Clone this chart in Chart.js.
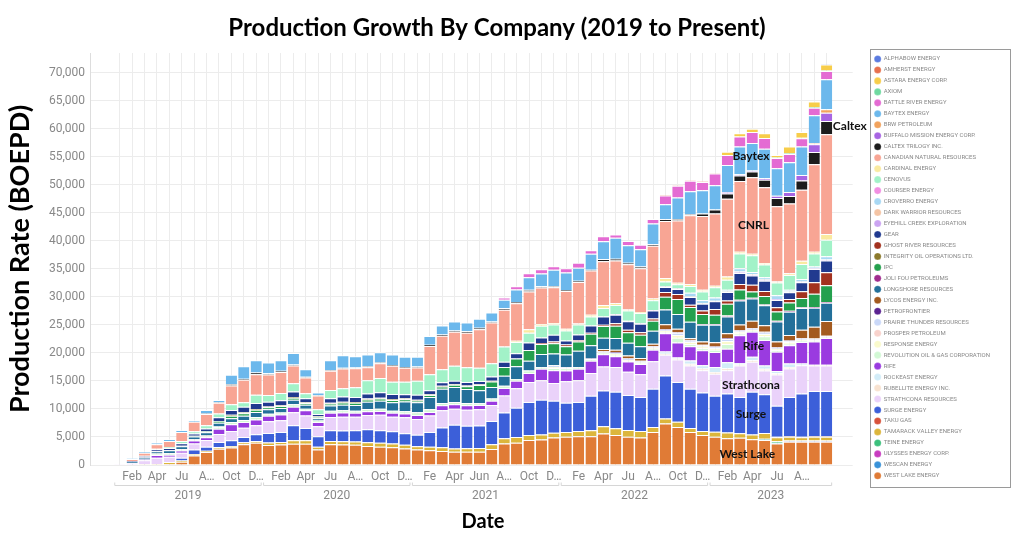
<!DOCTYPE html>
<html>
<head>
<meta charset="utf-8">
<title>Production Growth By Company</title>
<script src="https://cdn.jsdelivr.net/npm/chart.js@4.4.0/dist/chart.umd.min.js"></script>
<style>
  html, body { margin: 0; padding: 0; background: #fff; }
  #wrap { width: 1024px; height: 548px; }
</style>
</head>
<body>
<div id="wrap"><canvas id="chart"></canvas></div>
<script>
// months shown on the x axis, Jan 2019 .. Oct 2023
const months = [
  'Jan 2019','Feb 2019','Mar 2019','Apr 2019','May 2019','Jun 2019','Jul 2019','Aug 2019','Sep 2019','Oct 2019',
  'Nov 2019','Dec 2019','Jan 2020','Feb 2020','Mar 2020','Apr 2020','May 2020','Jun 2020','Jul 2020','Aug 2020',
  'Sep 2020','Oct 2020','Nov 2020','Dec 2020','Jan 2021','Feb 2021','Mar 2021','Apr 2021','May 2021','Jun 2021',
  'Jul 2021','Aug 2021','Sep 2021','Oct 2021','Nov 2021','Dec 2021','Jan 2022','Feb 2022','Mar 2022','Apr 2022',
  'May 2022','Jun 2022','Jul 2022','Aug 2022','Sep 2022','Oct 2022','Nov 2022','Dec 2022','Jan 2023','Feb 2023',
  'Mar 2023','Apr 2023','May 2023','Jun 2023','Jul 2023','Aug 2023','Sep 2023','Oct 2023'
];

// tick text as printed under the bars (truncated like the original)
const tickLabels = [
  '','Feb','','Apr','','Ju','','A…','','Oct','','D…',
  '','Feb','','Apr','','Ju','','A…','','Oct','','D…',
  '','Fe','','Apr','','Jun','','A…','','Oct','','D…',
  '','Fe','','Apr','','Ju','','A…','','Oct','','D…',
  '','Feb','','Apr','','Ju','','A…','',''
];
const years = ['2019', '2020', '2021', '2022', '2023'];
const yTicks = [0, 5000, 10000, 15000, 20000, 25000, 30000, 35000, 40000, 45000, 50000, 55000, 60000, 65000, 70000];

const companies = [
  'ALPHABOW ENERGY','AMHERST ENERGY','ASTARA ENERGY CORP.','AXIOM','BATTLE RIVER ENERGY','BAYTEX ENERGY',
  'BRW PETROLEUM','BUFFALO MISSION ENERGY CORP.','CALTEX TRILOGY INC.','CANADIAN NATURAL RESOURCES',
  'CARDINAL ENERGY','CENOVUS','COURSER ENERGY','CROVERRO ENERGY','DARK WARRIOR RESOURCES',
  'EYEHILL CREEK EXPLORATION','GEAR','GHOST RIVER RESOURCES','INTEGRITY OIL OPERATIONS LTD.','IPC',
  'JOLI FOU PETROLEUMS','LONGSHORE RESOURCES','LYCOS ENERGY INC.','PETROFRONTIER','PRAIRIE THUNDER RESOURCES',
  'PROSPER PETROLEUM','RESPONSE ENERGY','REVOLUTION OIL & GAS CORPORATION','RIFE','ROCKEAST ENERGY',
  'RUBELLITE ENERGY INC.','STRATHCONA RESOURCES','SURGE ENERGY','TAKU GAS','TAMARACK VALLEY ENERGY',
  'TEINE ENERGY','ULYSSES ENERGY CORP.','WESCAN ENERGY','WEST LAKE ENERGY'
];
const colors = [
  '#5b7be0','#e8714f','#f7cd4a','#6fd9a0','#e46bd3','#6cb8ec',
  '#f2a35d','#a865e3','#1c1c1c','#f8a594',
  '#faeaa0','#a2f2c8','#f28fe2','#a8d8f4','#f4c4a4',
  '#cba4f2','#213a8f','#a3321f','#8c7a2c','#24a04e',
  '#a02c8e','#23709a','#a35a1f','#5b2391','#cad8f8',
  '#f8d2cc','#fafacc','#d2f8d4','#9a3be0','#d2ecf8',
  '#f8e2d0','#ead2fa','#3c5fd9','#d8523b','#dcb63c',
  '#3cc07c','#c83cc0','#3a92d8','#e07b36'
];

// production per company, BOEPD, one value per month
const alphabow = [0,0,0,0,0,0,0,0,0,0, 0,0,0,0,0,0,0,0,0,0, 0,0,0,0,0,0,0,0,0,0, 0,0,0,0,0,0,0,0,0,0, 0,0,0,0,0,0,0,0,0,0, 0,0,0,0,0,0,0,100];
const amherst = [0,0,0,0,0,0,0,0,0,0, 0,0,0,0,0,0,0,0,0,0, 0,0,0,0,0,0,0,0,0,0, 0,0,0,0,0,0,0,0,0,0, 0,0,0,0,100,100,100,100,100,0, 0,0,0,0,0,0,0,0];
const astara = [0,0,0,0,0,0,0,0,0,0, 0,0,0,0,0,0,0,0,0,0, 0,0,0,0,0,0,0,0,0,0, 0,0,0,0,0,0,0,0,0,0, 0,0,0,0,0,0,0,0,0,600, 600,600,850,450,1200,1000,1000,1050];
const axiom = [0,0,0,0,0,0,0,0,0,0, 0,0,0,0,0,0,0,0,0,0, 0,0,0,0,0,0,0,0,0,0, 0,0,0,0,0,0,0,0,0,0, 0,0,0,0,0,0,0,0,0,0, 0,0,0,100,100,100,100,100];
const battleRiver = [0,0,0,0,0,0,0,0,0,0, 0,0,0,0,0,0,0,0,0,0, 0,0,0,0,0,0,0,0,0,0, 0,400,600,700,750,600,750,900,600,900, 550,750,800,800,1600,2100,1850,1500,2100,1800, 1800,1950,1950,1800,1500,1500,1350,1500];
const baytex = [0,150,200,300,300,300,300,600,400,1700, 2200,2200,1950,1900,2050,1350,450,1750,2250,2000, 2100,1800,1850,1800,1750,1550,1600,1600,1550,1600, 1600,1500,2200,2250,2250,2950,3150,2350,2850,3150, 3750,3100,3100,3700,2650,3800,4100,4150,4300,4850, 4950,4900,5250,4900,5300,5050,5000,5350];
const brw = [0,0,0,0,0,0,0,0,0,0, 0,0,0,0,0,0,0,0,0,0, 0,0,0,0,0,0,0,0,0,0, 0,0,0,0,0,0,0,0,0,0, 0,0,0,0,0,0,0,0,0,0, 0,0,0,0,0,0,200,600];
const buffalo = [0,0,0,0,0,0,0,0,0,0, 0,0,0,0,0,0,0,0,0,0, 0,0,0,0,0,0,0,0,0,0, 0,0,0,0,0,0,0,0,0,0, 0,0,0,0,0,0,0,0,0,200, 200,200,250,400,700,1000,1350,1500];
const caltex = [0,0,0,0,0,0,0,100,100,200, 200,300,200,200,200,150,100,150,150,150, 150,150,150,150,150,200,250,250,250,300, 200,300,250,300,250,200,150,200,150,400, 300,300,300,300,300,300,200,450,750,950, 1000,1000,1350,1500,1350,1650,2200,2350];
const cnrl = [0,350,550,800,1100,1600,1700,2000,1900,3350, 4000,3650,3650,3750,3150,2800,2450,3400,3500,3400, 2350,2650,2850,2500,2350,5050,5950,6050,6150,6850, 7250,6550,6700,6750,6500,6350,6750,7400,7900,7800, 7650,8050,7800,9400,10200,11100,12300,13150,12850,13850, 12600,13650,13500,13400,12450,12650,15600,17800];
const cardinal = [0,0,0,0,0,0,0,0,0,0, 0,0,0,0,0,0,0,0,0,0, 0,0,0,0,0,0,0,0,0,0, 0,0,200,600,300,300,300,200,300,550, 300,200,200,300,600,250,300,300,300,600, 300,300,300,200,300,600,300,1000];
const cenovus = [0,0,100,100,150,400,400,600,700,1050, 800,1500,1200,1300,1500,900,850,1500,1500,1700, 2350,2500,2200,2250,2500,2850,2350,2650,2650,2350, 2350,2750,2000,1750,2100,1800,1800,1750,1600,1500, 1650,1800,1800,1750,900,750,1200,1500,1800,1800, 2650,2950,2250,2250,2650,2650,2350,2950];
const courser = [0,0,0,0,0,0,0,0,0,0, 0,0,0,0,0,0,0,0,0,0, 0,0,0,0,0,0,0,0,0,0, 0,0,0,0,0,0,0,0,0,0, 100,100,100,100,100,100,0,0,0,0, 0,0,0,0,0,0,0,0];
const croverro = [0,0,0,0,0,0,0,0,0,0, 0,0,0,0,0,0,0,0,0,0, 0,0,0,0,0,0,0,0,0,0, 0,0,0,0,0,0,0,0,0,0, 0,0,0,0,0,0,700,600,600,300, 600,400,400,700,300,450,300,600];
const darkWarrior = [0,0,0,0,0,0,0,0,0,0, 0,0,0,0,0,0,0,0,0,0, 0,0,0,0,0,0,0,0,0,0, 0,0,0,0,0,0,0,0,0,0, 0,0,0,0,0,0,100,100,100,100, 100,100,100,0,0,0,0,0];
const eyehill = [0,0,0,0,0,0,0,0,0,0, 0,0,0,0,0,0,0,0,0,0, 0,0,0,0,0,0,0,0,0,0, 0,0,0,0,0,0,0,0,0,0, 0,0,0,0,0,0,0,0,0,0, 150,150,150,150,150,150,150,150];
const gear = [0,100,200,350,400,450,400,500,650,850, 1000,1050,850,900,1000,700,400,800,900,900, 900,1000,900,700,900,750,600,600,600,600, 750,900,950,1350,1000,1200,700,1050,1300,1500, 1500,1500,1500,1400,900,900,1350,1200,1350,1500, 1950,1650,1800,1300,1200,1600,2350,2100];
const ghostRiver = [0,0,0,0,0,0,0,0,0,0, 0,0,0,0,0,0,0,0,0,0, 0,0,0,0,0,0,0,0,0,0, 0,0,0,0,150,350,300,200,200,200, 450,450,450,400,850,900,400,600,1050,600, 1000,1200,900,750,600,1200,2050,2350];
const integrity = [0,0,0,0,0,0,0,0,0,150, 150,150,150,150,150,150,150,150,150,150, 150,150,150,150,150,150,150,150,150,150, 150,0,0,0,0,0,0,0,0,0, 0,0,0,0,0,0,0,0,0,0, 0,0,0,0,0,0,0,0];
const ipc = [0,0,0,0,0,100,100,150,300,450, 450,400,350,350,300,300,200,350,400,400, 400,400,400,400,300,300,400,400,500,900, 1000,1600,1400,1900,1800,1800,1500,1650,2050,2100, 2200,1900,2050,1800,2250,2650,2650,1800,1650,2100, 1800,1100,1500,1650,1500,1650,2350,2950];
const joliFou = [0,0,0,0,0,0,0,0,0,0, 0,0,0,0,0,0,0,0,0,0, 0,0,0,0,0,0,0,0,0,0, 0,0,0,0,0,0,0,0,0,0, 0,0,0,0,0,0,0,150,150,150, 150,150,150,150,150,150,150,150];
const longshore = [0,250,350,400,500,500,500,600,700,700, 750,900,800,800,800,700,400,900,1000,1000, 1300,1400,1500,1750,1800,2200,2550,2650,2500,2350, 2050,1750,2250,1750,2350,2100,2250,2950,2350,2050, 2100,2250,2100,2300,2650,2650,2950,2950,3100,3000, 4300,3950,3550,3550,4150,3850,3400,3250];
const lycos = [0,0,0,0,0,0,0,0,0,0, 0,0,0,0,0,0,0,0,0,0, 0,0,0,0,0,0,0,0,0,0, 0,0,0,0,0,0,0,0,0,300, 450,500,500,400,900,600,300,600,750,900, 1000,1300,1200,1050,1000,1500,2100,2650];
const petrofrontier = [0,0,0,0,0,0,0,0,0,0, 0,0,0,0,0,0,0,0,0,0, 0,0,0,0,0,0,0,0,0,0, 0,0,0,0,0,0,0,0,100,100, 100,100,100,100,100,100,100,100,100,100, 100,100,100,100,100,100,100,100];
const prairieThunder = [0,0,0,0,0,0,0,0,0,0, 0,0,0,0,0,0,0,0,0,0, 0,0,0,0,0,0,0,0,0,0, 0,0,0,0,0,300,200,0,0,200, 200,200,200,200,200,400,300,200,200,400, 200,200,300,200,200,200,200,200];
const prosper = [0,0,0,100,100,100,100,100,100,0, 0,0,0,0,0,0,0,0,0,0, 0,0,0,0,0,0,0,0,0,0, 0,0,0,0,0,0,0,0,0,0, 0,0,0,0,0,0,0,0,0,0, 0,0,0,0,0,0,0,0];
const response = [0,0,0,0,0,0,0,0,0,0, 0,0,0,0,0,0,0,0,0,0, 0,0,0,0,0,0,0,0,0,0, 0,0,0,0,0,200,0,0,0,0, 200,150,150,200,200,500,300,300,300,500, 300,200,400,200,250,200,100,100];
const revolution = [0,0,0,150,200,150,150,200,300,400, 400,450,350,350,450,300,300,400,400,400, 400,400,400,400,500,500,400,400,400,300, 400,400,300,450,300,400,400,300,300,300, 200,150,150,200,200,850,400,400,400,850, 300,200,650,300,300,200,100,0];
const rife = [0,0,150,500,400,400,500,500,900,1200, 1000,1000,1000,1000,1000,900,750,750,750,700, 700,700,700,700,700,600,900,800,800,750, 750,1350,1350,1600,2050,2250,1900,2050,2200,2200, 1900,1800,1800,2050,3250,2650,2550,2650,2650,2400, 5000,4450,4550,3450,3250,3850,4150,4750];
const rockeast = [0,0,0,0,0,0,0,0,0,0, 0,0,0,0,0,0,0,0,0,0, 0,0,0,0,0,0,0,0,0,0, 0,0,0,0,0,0,0,0,0,0, 0,0,0,0,400,200,600,600,900,1100, 200,600,600,400,600,200,0,0];
const rubellite = [0,0,0,0,0,0,0,0,0,0, 0,0,0,0,0,0,0,0,0,0, 0,0,0,0,0,0,0,0,0,0, 0,0,0,0,0,0,0,0,0,0, 0,0,0,0,200,200,300,300,300,350, 200,300,300,200,300,100,150,150];
const strathcona = [200,350,700,1100,900,900,1100,1200,1450,1650, 1650,1600,2100,2100,2300,2250,1750,2350,2450,2400, 2500,2750,2600,2850,2800,2950,3050,2850,2850,2900, 2850,3050,3500,3550,3450,3200,3850,3850,4050,4250, 4450,4150,4050,4900,3700,4000,4150,3950,3950,4150, 5600,5350,4250,5600,5050,5050,4550,4550];
const surge = [0,0,0,0,0,500,800,700,900,1000, 950,1200,1700,1800,2700,2200,1900,1900,1900,2000, 2350,2250,2150,2050,2050,2650,3550,4250,4000,4000, 4150,4600,5200,5900,6200,5700,5200,5200,6150,6400, 6500,6250,6100,6800,7650,7100,7000,6900,6400,6950, 6500,7600,6900,5500,7000,7700,8050,8050];
const taku = [0,0,0,0,0,0,0,0,0,0, 0,0,0,0,0,0,0,0,0,0, 0,0,0,0,0,0,0,0,0,0, 0,0,0,0,0,0,0,0,0,0, 0,0,0,0,0,0,0,0,0,0, 0,0,0,100,100,100,100,100];
const tamarack = [0,0,150,200,350,200,250,250,300,300, 350,350,450,450,600,600,500,600,600,600, 650,700,700,650,600,600,650,600,650,700, 850,900,1050,900,900,850,850,900,1050,1300, 1200,1200,1150,900,900,900,700,700,900,1050, 800,850,1000,700,700,600,700,700];
const teine = [0,0,0,0,0,0,0,0,0,0, 0,0,0,0,0,0,0,0,0,0, 0,0,0,0,0,0,0,0,0,0, 0,0,0,0,0,0,0,0,0,0, 0,0,0,0,0,0,0,0,0,0, 0,0,150,300,0,0,0,0];
const ulysses = [0,0,0,0,0,0,0,0,0,0, 0,0,0,0,0,0,0,0,0,0, 0,0,0,0,0,0,0,0,0,0, 0,0,0,0,0,0,0,0,0,0, 0,0,0,0,0,0,0,0,0,0, 0,0,0,0,100,100,100,100];
const wescan = [0,0,0,0,0,0,0,0,0,0, 0,0,0,0,0,0,0,0,0,0, 0,0,0,0,0,0,0,0,0,0, 0,0,0,0,0,0,0,0,0,0, 0,0,0,0,0,0,0,0,0,0, 0,0,100,100,100,100,100,100];
const westLake = [0,0,0,0,200,600,1700,2300,2900,3100, 3700,3950,3550,3650,3800,3800,2750,3700,3650,3600, 3400,3250,3150,2950,2750,2650,2500,2350,2350,2350, 2850,3850,3950,4450,4550,4900,5050,5150,5150,5600, 5350,5050,4900,5900,7400,6800,5900,5350,5050,4750, 4850,4600,4450,3850,4150,4150,4150,4150];

const series = [
  alphabow, amherst, astara, axiom, battleRiver, baytex, brw, buffalo, caltex, cnrl,
  cardinal, cenovus, courser, croverro, darkWarrior, eyehill, gear, ghostRiver, integrity, ipc,
  joliFou, longshore, lycos, petrofrontier, prairieThunder, prosper, response, revolution, rife, rockeast,
  rubellite, strathcona, surge, taku, tamarack, teine, ulysses, wescan, westLake
];

// in-chart company labels (month index, BOEPD)
const annoText = ['Caltex', 'Baytex', 'CNRL', 'Rife', 'Strathcona', 'Surge', 'West Lake'];
const annoMonth = [57.5, 50.9, 51.1, 51.1, 50.9, 50.9, 50.6];
const annoValue = [60400, 55050, 42860, 21250, 14290, 9110, 1960];
const annoAlign = ['left', 'center', 'center', 'center', 'center', 'center', 'center'];

const chartTitle = 'Production Growth By Company (2019 to Present)';
const xTitle = 'Date';

// datasets: West Lake at the bottom of the stack, legend stays A to Z
const datasets = companies.map((name, k) => ({
  label: name,
  data: series[k].map((v, i) => ({ x: i, y: v })),
  backgroundColor: colors[k],
  borderColor: '#ffffff',
  borderWidth: { top: 1, left: 0, right: 0, bottom: 0 },
  borderSkipped: 'start'
})).reverse();

const overlay = {
  id: 'overlay',
  afterDraw(chart) {
    const { ctx, scales: { x, y } } = chart;
    ctx.save();
    ctx.textAlign = 'center';
    ctx.textBaseline = 'middle';
    ctx.fillStyle = '#000';
    ctx.font = 'bold 24px Lato';
    ctx.fillText(chartTitle, 497, 28);
    ctx.font = 'bold 20px Lato';
    ctx.fillText(xTitle, 483, 522);

    // year row under the month ticks
    ctx.font = '12px Roboto';
    ctx.fillStyle = '#888';
    ctx.strokeStyle = '#d6d6d6';
    ctx.lineWidth = 1;
    years.forEach(yr => {
      const idx = [];
      months.forEach((m, i) => { if (m.endsWith(yr)) idx.push(i); });
      const a = x.getPixelForValue(idx[0]) - 5;
      const b = x.getPixelForValue(idx[idx.length - 1]) + 5;
      const ly = 485.5;
      ctx.beginPath();
      ctx.moveTo(a, ly - 3);
      ctx.lineTo(a, ly);
      ctx.lineTo(b, ly);
      ctx.lineTo(b, ly - 3);
      ctx.stroke();
      ctx.fillText(yr, (a + b) / 2, 496);
    });

    // company names on the bars
    ctx.font = 'bold 12px Lato';
    ctx.fillStyle = '#111';
    annoText.forEach((t, k) => {
      ctx.textAlign = annoAlign[k];
      ctx.fillText(t, x.getPixelForValue(annoMonth[k]), y.getPixelForValue(annoValue[k]));
    });

    // frame around legend
    const hb = chart.legend.legendHitBoxes;
    if (hb && hb.length) {
      const l = Math.min(...hb.map(h => h.left)) - 5;
      const t = Math.min(...hb.map(h => h.top)) - 7;
      const r = Math.max(...hb.map(h => h.left + h.width)) + 20;
      const b = Math.max(...hb.map(h => h.top + h.height)) + 8;
      ctx.strokeStyle = '#9a9a9a';
      ctx.strokeRect(Math.round(l) + 0.5, Math.round(t) + 0.5, Math.round(r - l), Math.round(b - t));
    }
    ctx.restore();
  }
};

Chart.defaults.font.family = 'Roboto';

new Chart(document.getElementById('chart').getContext('2d'), {
  type: 'bar',
  data: { datasets },
  plugins: [overlay],
  options: {
    responsive: true,
    maintainAspectRatio: false,
    animation: false,
    events: [],
    layout: { padding: { top: 51, right: 24, bottom: 4, left: 4 } },
    datasets: { bar: { barPercentage: 0.9, categoryPercentage: 1 } },
    plugins: {
      title: { display: false },
      tooltip: { enabled: false },
      legend: {
        position: 'right',
        align: 'start',
        labels: {
          usePointStyle: true,
          pointStyle: 'circle',
          boxHeight: 5,
          padding: 4.97,
          color: '#888',
          font: { size: 6, family: 'Roboto' },
          sort: (a, b) => b.datasetIndex - a.datasetIndex
        }
      }
    },
    scales: {
      x: {
        type: 'linear',
        stacked: true,
        min: -2.4,
        max: 59.1,
        offset: false,
        afterBuildTicks: s => { s.ticks = months.map((m, i) => ({ value: i })); },
        afterFit: s => { s.height = 79; },
        grid: { offset: false, color: '#ececec', drawTicks: false },
        border: { display: false },
        ticks: {
          autoSkip: false,
          maxRotation: 0,
          padding: 5,
          color: '#888',
          font: { size: 12 },
          callback: v => tickLabels[v] || ''
        }
      },
      topGap: {
        type: 'linear',
        position: 'top',
        display: true,
        afterFit: s => { s.height = 2; },
        grid: { display: false },
        border: { display: false },
        ticks: { display: false }
      },
      y: {
        stacked: true,
        min: 0,
        max: 73500,
        afterBuildTicks: s => { s.ticks = yTicks.map(v => ({ value: v })); },
        afterFit: s => { s.width = 86; },
        grid: { color: '#ececec', drawTicks: false },
        border: { display: true, color: '#dddddd' },
        ticks: {
          padding: 5,
          color: '#888',
          font: { size: 12 },
          callback: v => v.toLocaleString('en-US')
        },
        title: {
          display: true,
          text: 'Production Rate (BOEPD)',
          color: '#000',
          font: { size: 27, weight: 'bold', family: 'Lato' },
          padding: { top: 0, bottom: 6 }
        }
      },
      gap: {
        type: 'linear',
        position: 'right',
        display: true,
        afterFit: s => { s.width = 17; },
        grid: { display: false },
        border: { display: false },
        ticks: { display: false }
      }
    }
  }
});
</script>
</body>
</html>
